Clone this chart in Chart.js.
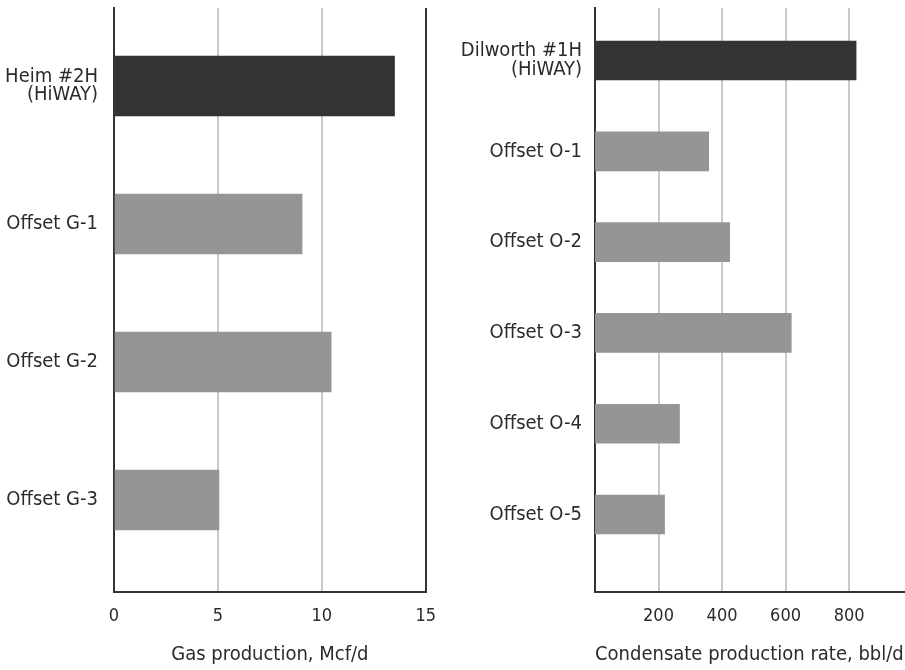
<!DOCTYPE html>
<html>
<head>
<meta charset="utf-8">
<script src="https://cdn.jsdelivr.net/npm/chart.js@4/dist/chart.umd.min.js"></script>
<style>
  html, body { margin:0; padding:0; background:#fff; }
  .pane { position:absolute; top:0; height:670px; }
  #paneGas { left:0; width:450px; }
  #paneCond { left:450px; width:455px; }
</style>
</head>
<body>
<div class="pane" id="paneGas"><canvas id="chartGas" width="450" height="670"></canvas></div>
<div class="pane" id="paneCond"><canvas id="chartCond" width="455" height="670"></canvas></div>
<script>
/* ---------- Data ---------- */
const gasWells = [['Heim #2H', '(HiWAY)'], 'Offset G-1', 'Offset G-2', 'Offset G-3'];
const gasValues = [13.5, 9.05, 10.45, 5.05];
const gasTicks = [0, 5, 10, 15];

const condWells = [['Dilworth #1H', '(HiWAY)'], 'Offset O-1', 'Offset O-2', 'Offset O-3', 'Offset O-4', 'Offset O-5'];
const condValues = [822, 358, 424, 618, 266, 219];
const condTicks = [200, 400, 600, 800];

/* ---------- Style ---------- */
const FONT = '"Liberation Sans Narrow", "DejaVu Sans Condensed", "Roboto", sans-serif';
const DARK = '#333333', GRAY = '#959595', GRID = '#c9c9c9', TEXT = '#2b2b2b';
Chart.defaults.font.family = FONT;
Chart.defaults.color = TEXT;
Chart.defaults.animation = false;

// first bar (HiWAY well) dark, offsets gray
const barColors = n => Array.from({ length: n }, (_, i) => i === 0 ? DARK : GRAY);

function makeChart(id, o){
  return new Chart(document.getElementById(id), {
    type: 'bar',
    data: {
      datasets: [{
        data: o.values.map((v, i) => ({ x: v, y: i })),
        backgroundColor: barColors(o.values.length),
        borderWidth: 0,
        barThickness: o.barThickness,
      }]
    },
    options: {
      responsive: false,
      indexAxis: 'y',
      layout: { padding: { top: 8, right: o.padRight, left: 0, bottom: 0 } },
      plugins: { legend: { display: false }, tooltip: { enabled: false } },
      scales: {
        y: {
          type: 'linear', reverse: true, offset: false,
          min: o.yMin, max: o.yMax,
          afterBuildTicks: s => { s.ticks = o.wells.map((w, i) => ({ value: i })); },
          afterFit: s => { s.width = o.yWidth; s.paddingTop = 0; s.paddingBottom = 0; },
          grid: { display: false, drawTicks: false, offset: false },
          border: { display: true, color: DARK, width: 2 },
          ticks: {
            padding: o.labelPad,
            font: { size: 20, lineHeight: 0.93 },
            callback: v => o.wells[v],
          },
        },
        x: {
          type: 'linear', min: 0, max: o.xMax,
          afterBuildTicks: s => { s.ticks = o.ticks.map(v => ({ value: v })); },
          afterFit: s => { s.height = 78; },
          grid: {
            drawTicks: false, lineWidth: 2,
            color: c => c.tick && c.tick.value === o.xMax ? DARK : (c.tick && c.tick.value === 0 ? 'rgba(0,0,0,0)' : GRID),
          },
          border: { display: true, color: DARK, width: 2 },
          ticks: { padding: 14, font: { size: 18 }, maxRotation: 0, autoSkip: false },
          title: {
            display: true, text: o.title, align: o.titleAlign,
            font: { size: 20 }, padding: { top: 0, bottom: 3 },
          },
        },
      },
    },
  });
}

makeChart('chartGas', {
  wells: gasWells, values: gasValues, ticks: gasTicks,
  xMax: 15, yMin: -0.565, yMax: 3.667,
  yWidth: 114, padRight: 24, labelPad: 16, barThickness: 60,
  title: 'Gas production, Mcf/d', titleAlign: 'center',
});

makeChart('chartCond', {
  wells: condWells, values: condValues, ticks: condTicks,
  xMax: 976, yMin: -0.578, yMax: 5.853,
  yWidth: 145, padRight: 0, labelPad: 13, barThickness: 39,
  title: 'Condensate production rate, bbl/d', titleAlign: 'start',
});
</script>
</body>
</html>
